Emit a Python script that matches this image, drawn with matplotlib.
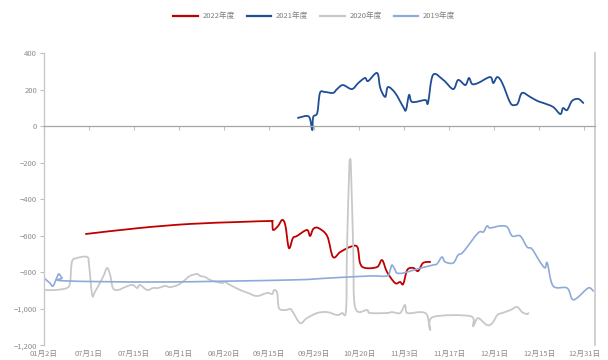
import matplotlib
matplotlib.use("Agg")
import numpy as np
import matplotlib.pyplot as plt
from matplotlib.path import Path
from matplotlib.patches import PathPatch
from matplotlib.lines import Line2D
from matplotlib.ticker import FuncFormatter

plt.rcParams['font.family'] = ['Noto Sans CJK SC', 'DejaVu Sans']

# Category axis labels (evenly spaced positions 0..12)
categories = ["01月2日", "07月1日", "07月15日", "08月1日", "08月20日", "09月15日",
              "09月29日", "10月20日", "11月3日", "11月17日", "12月1日", "12月15日", "12月31日"]

# Series: x in category units, values
x_2022 = [0.93, 2.13, 3.24, 4.36, 5.02, 5.07, 5.09, 5.20, 5.29, 5.36, 5.44, 5.53, 5.62,
          5.84, 5.91, 5.98, 6.09, 6.29, 6.42, 6.58, 6.80, 6.96, 7.02, 7.13, 7.40, 7.51,
          7.62, 7.80, 7.91, 7.98, 8.07, 8.20, 8.31, 8.42, 8.58]
v_2022 = [-589, -556, -534, -523, -518, -523, -567, -545, -512, -540, -666, -611, -600,
          -567, -600, -562, -556, -600, -715, -688, -660, -660, -748, -775, -770, -732,
          -797, -858, -852, -863, -786, -775, -792, -748, -742]

x_2021 = [5.64, 5.84, 5.91, 5.96, 5.98, 6.07, 6.13, 6.24, 6.42, 6.51, 6.64, 6.84, 6.98,
          7.13, 7.20, 7.40, 7.47, 7.58, 7.64, 7.80, 7.98, 8.04, 8.11, 8.18, 8.47, 8.53,
          8.64, 8.87, 9.09, 9.20, 9.36, 9.44, 9.51, 9.64, 9.91, 9.98, 10.07, 10.18, 10.36,
          10.47, 10.53, 10.62, 10.80, 10.96, 11.09, 11.31, 11.47, 11.53, 11.62, 11.73,
          11.87, 11.98]
v_2021 = [47, 58, 41, -20, 52, 74, 184, 189, 184, 205, 227, 205, 238,
          266, 249, 293, 211, 162, 216, 184, 107, 90, 173, 134, 145, 129,
          282, 255, 205, 255, 227, 266, 233, 238, 271, 238, 271, 238, 129,
          118, 129, 184, 162, 140, 129, 107, 68, 101, 90, 140,
          151, 129]

x_2020 = [0.02, 0.24, 0.51, 0.58, 0.62, 0.73, 0.96, 1.00, 1.07, 1.13, 1.31, 1.40, 1.47,
          1.53, 1.64, 1.80, 1.96, 2.07, 2.13, 2.29, 2.42, 2.53, 2.69, 2.80, 2.98, 3.13,
          3.24, 3.40, 3.47, 3.58, 3.69, 3.84, 3.96, 4.02, 4.13, 4.36, 4.53, 4.73, 4.96,
          5.07, 5.11, 5.18, 5.22, 5.36, 5.47, 5.53, 5.69, 5.84, 6.07, 6.29, 6.51, 6.62,
          6.71, 6.73, 6.78, 6.80, 6.82, 6.87, 6.91, 7.18, 7.24, 7.62, 7.73, 7.91, 8.02,
          8.07, 8.36, 8.51, 8.58, 8.64, 9.47, 9.53, 9.64, 9.84, 9.96, 10.07, 10.18, 10.36,
          10.51, 10.62, 10.73, 10.76]
v_2020 = [-896, -896, -885, -852, -742, -721, -715, -759, -923, -907, -825, -775, -814,
          -885, -896, -880, -868, -885, -868, -896, -885, -885, -874, -880, -868, -841,
          -819, -808, -819, -825, -841, -852, -858, -852, -868, -896, -912, -929, -912,
          -918, -896, -912, -995, -1006, -1000, -1017, -1077, -1050, -1022, -1017, -1033, -1022,
          -1006, -676, -238, -184, -238, -676, -989, -1006, -1022, -1022, -1017, -1022, -978,
          -1022, -1017, -1033, -1116, -1044, -1039, -1094, -1050, -1088, -1077, -1033, -1022, -1006,
          -989, -1017, -1028, -1022]

x_2019 = [0.00, 0.13, 0.20, 0.29, 0.33, 0.40, 0.47, 2.58, 5.47, 6.36, 7.24, 7.62, 7.69,
          7.73, 7.80, 7.84, 7.98, 8.29, 8.64, 8.73, 8.84, 8.91, 9.09, 9.20, 9.31, 9.64,
          9.76, 9.84, 9.91, 10.13, 10.29, 10.40, 10.58, 10.73, 10.84, 11.02, 11.13, 11.18,
          11.31, 11.62, 11.73, 11.84, 12.09, 12.20]
v_2019 = [-830, -858, -874, -825, -808, -830, -846, -852, -841, -830, -819, -819, -786,
          -759, -786, -803, -803, -781, -759, -753, -715, -742, -748, -704, -688, -584,
          -578, -545, -556, -545, -551, -600, -600, -660, -671, -742, -775, -748,
          -874, -885, -945, -940, -885, -901]

y_ticks = [400, 200, 0, -200, -400, -600, -800, -1000, -1200]


def smooth_path(xs, ys):
    """Catmull-Rom curve through the points, expressed as cubic Bezier segments."""
    pts = np.column_stack([xs, ys]).astype(float)
    n = len(pts)
    verts = [pts[0]]
    codes = [Path.MOVETO]
    for i in range(n - 1):
        p0 = pts[i - 1] if i > 0 else pts[i]
        p1 = pts[i]
        p2 = pts[i + 1]
        p3 = pts[i + 2] if i + 2 < n else pts[i + 1]
        verts += [p1 + (p2 - p0) / 6.0, p2 - (p3 - p1) / 6.0, p2]
        codes += [Path.CURVE4] * 3
    return Path(verts, codes)


fig = plt.figure(figsize=(6.08, 3.6), dpi=100)
ax = fig.add_axes([0.0724, 0.0403, 0.9062, 0.8111])

series = [
    (x_2022, v_2022, "2022年度", "#c00000", 1.3),
    (x_2021, v_2021, "2021年度", "#1f4e96", 1.3),
    (x_2020, v_2020, "2020年度", "#c8c8c8", 1.3),
    (x_2019, v_2019, "2019年度", "#8eaad8", 1.2),
]
handles = []
for xs, vs, name, col, lw in series:
    patch = PathPatch(smooth_path(xs, vs), fill=False, edgecolor=col, lw=lw,
                      capstyle='round', joinstyle='round')
    ax.add_patch(patch)
    handles.append(Line2D([], [], color=col, lw=1.6, label=name))

ax.set_xlim(0, 12.24)
ax.set_ylim(-1200, 400)

# y axis
ax.set_yticks(y_ticks)
ax.yaxis.set_major_formatter(FuncFormatter(lambda v, p: f"{v:,.0f}".replace("-", "\u2212")))
ax.tick_params(axis='y', length=3, width=0.8, color="#bfbfbf", labelsize=5.5,
               labelcolor="#8c8c8c", pad=2)

# category axis line at zero
ax.spines['bottom'].set_position(('data', 0))
ax.spines['bottom'].set_color("#a6a6a6")
ax.spines['bottom'].set_linewidth(0.9)
ax.set_xticks(range(len(categories)))
ax.tick_params(axis='x', length=3, width=0.8, color="#bfbfbf", labelbottom=False)

ax.spines['left'].set_color("#c8c8c8")
ax.spines['left'].set_linewidth(1.0)
ax.spines['right'].set_color("#c8c8c8")
ax.spines['right'].set_linewidth(1.2)
ax.spines['top'].set_visible(False)

# category labels along the bottom edge
sec = ax.secondary_xaxis('bottom')
sec.spines['bottom'].set_visible(False)
sec.set_xticks(range(len(categories)))
sec.set_xticklabels(categories)
sec.tick_params(axis='x', length=0, labelsize=5.5, labelcolor="#8c8c8c", pad=3)

fig.legend(handles=handles, loc='upper center', bbox_to_anchor=(0.517, 0.985), ncol=4,
           frameon=False, fontsize=5.5, handlelength=3.2, columnspacing=1.6,
           handletextpad=0.6, labelcolor="#7f7f7f")

fig.savefig("out.png", dpi=100, facecolor="white")
